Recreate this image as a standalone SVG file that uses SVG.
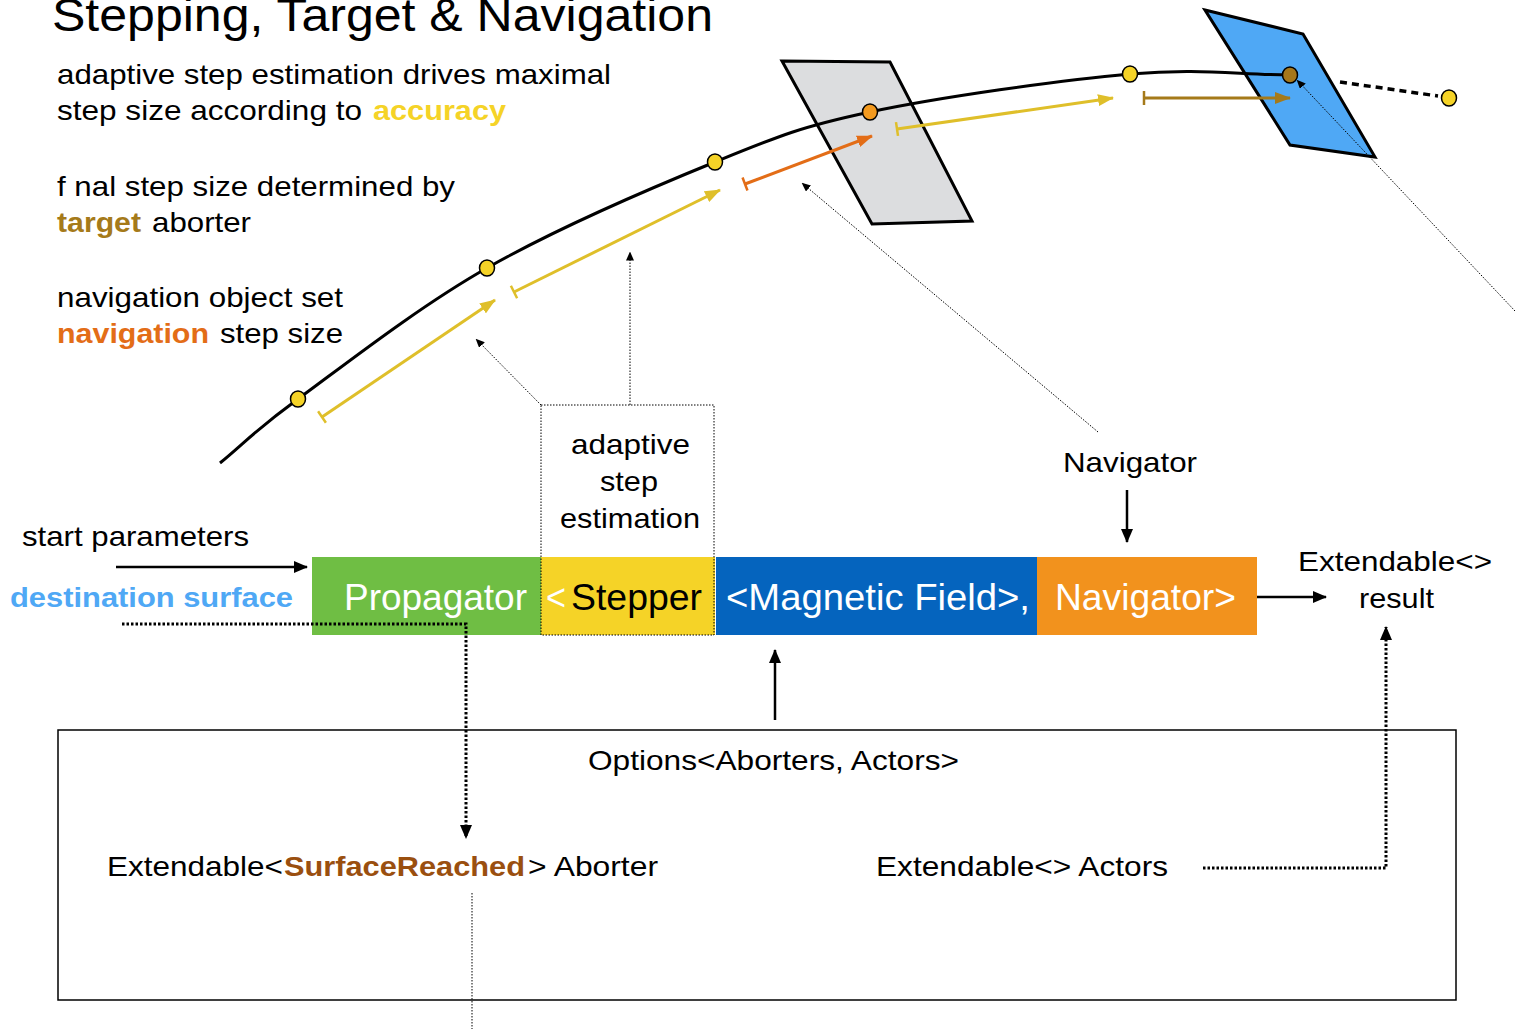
<svg xmlns="http://www.w3.org/2000/svg" width="1515" height="1029" viewBox="0 0 1515 1029">
<style>
text{font-family:"Liberation Sans",Arial,sans-serif;}
.t28{font-size:28px;fill:#000;}
.b{font-weight:bold;}
.bar{font-size:36px;fill:#fff;}
.dotthin{fill:none;stroke:#000;stroke-width:1;stroke-dasharray:1.5 1.5;}
.dotthick{fill:none;stroke:#000;stroke-width:3;stroke-dasharray:2.5 2;}
.dot{stroke:#000;stroke-width:1.5;}
</style>
<defs>
<marker id="ay" viewBox="0 0 16 12" refX="15" refY="6" markerWidth="16" markerHeight="12" markerUnits="userSpaceOnUse" orient="auto"><path d="M0,0 L16,6 L0,12 z" fill="#dfbf2a"/></marker>
<marker id="ao" viewBox="0 0 16 12" refX="15" refY="6" markerWidth="16" markerHeight="12" markerUnits="userSpaceOnUse" orient="auto"><path d="M0,0 L16,6 L0,12 z" fill="#e36d17"/></marker>
<marker id="ab" viewBox="0 0 16 12" refX="15" refY="6" markerWidth="16" markerHeight="12" markerUnits="userSpaceOnUse" orient="auto"><path d="M0,0 L16,6 L0,12 z" fill="#a57a1a"/></marker>
<marker id="ty" viewBox="-2 -8 4 16" refX="0" refY="0" markerWidth="4" markerHeight="16" markerUnits="userSpaceOnUse" orient="auto"><path d="M0,-7 L0,7" stroke="#dfbf2a" stroke-width="2.5"/></marker>
<marker id="to" viewBox="-2 -8 4 16" refX="0" refY="0" markerWidth="4" markerHeight="16" markerUnits="userSpaceOnUse" orient="auto"><path d="M0,-7 L0,7" stroke="#e36d17" stroke-width="2.5"/></marker>
<marker id="tb" viewBox="-2 -8 4 16" refX="0" refY="0" markerWidth="4" markerHeight="16" markerUnits="userSpaceOnUse" orient="auto"><path d="M0,-7 L0,7" stroke="#a57a1a" stroke-width="2.5"/></marker>
<marker id="ak" viewBox="0 0 14 12" refX="13" refY="6" markerWidth="14" markerHeight="12" markerUnits="userSpaceOnUse" orient="auto"><path d="M0,0 L14,6 L0,12 z" fill="#000"/></marker>
<marker id="aks" viewBox="0 0 9 8" refX="8.5" refY="4" markerWidth="9" markerHeight="8" markerUnits="userSpaceOnUse" orient="auto"><path d="M0,0 L9,4 L0,8 z" fill="#000"/></marker>
</defs>
<rect width="1515" height="1029" fill="#fff"/>

<g id="title">
<text x="52" y="31" font-size="46" textLength="661" lengthAdjust="spacingAndGlyphs">Stepping, Target &amp; Navigation</text>
</g>

<g id="notes">
<text class="t28" x="57" y="84" textLength="554" lengthAdjust="spacingAndGlyphs">adaptive step estimation drives maximal</text>
<text class="t28" x="57" y="120" textLength="305" lengthAdjust="spacingAndGlyphs">step size according to</text>
<text class="t28 b" x="373" y="120" style="fill:#f5d327" textLength="133" lengthAdjust="spacingAndGlyphs">accuracy</text>
<text class="t28" x="57" y="196" textLength="398" lengthAdjust="spacingAndGlyphs">f nal step size determined by</text>
<text class="t28 b" x="57" y="232" style="fill:#a57a1a" textLength="84" lengthAdjust="spacingAndGlyphs">target</text>
<text class="t28" x="152" y="232" textLength="99" lengthAdjust="spacingAndGlyphs">aborter</text>
<text class="t28" x="57" y="307" textLength="286" lengthAdjust="spacingAndGlyphs">navigation object set</text>
<text class="t28 b" x="57" y="343" style="fill:#e36d17" textLength="152" lengthAdjust="spacingAndGlyphs">navigation</text>
<text class="t28" x="220" y="343" textLength="123" lengthAdjust="spacingAndGlyphs">step size</text>
</g>

<g id="surface-grey">
<polygon points="782,61 890,62 972,221 872,224" fill="#dcdddf" stroke="#000" stroke-width="3"/>
</g>
<g id="surface-blue">
<polygon points="1205,10 1303,34 1375,157 1290,145" fill="#4fa8f5" stroke="#000" stroke-width="3"/>
</g>

<g id="trajectory">
<path d="M220,463 C246,441.7 253.5,431.5 298,399 C342.5,366.5 417.5,307.5 487,268 C556.5,228.5 651.2,188 715,162 C778.8,136 800.8,126.7 870,112 C939.2,97.3 1060,80.2 1130,74 C1200,67.8 1236.7,74.7 1290,75" fill="none" stroke="#000" stroke-width="3"/>
<line x1="1340" y1="82" x2="1438" y2="96" stroke="#000" stroke-width="3.5" stroke-dasharray="7 5"/>
</g>

<g id="step-arrows">
<line x1="322" y1="417" x2="495" y2="300" stroke="#dfbf2a" stroke-width="3" marker-start="url(#ty)" marker-end="url(#ay)"/>
<line x1="514" y1="292" x2="720" y2="190" stroke="#dfbf2a" stroke-width="3" marker-start="url(#ty)" marker-end="url(#ay)"/>
<line x1="745" y1="184" x2="872" y2="136" stroke="#e36d17" stroke-width="3" marker-start="url(#to)" marker-end="url(#ao)"/>
<line x1="897" y1="129" x2="1113" y2="98" stroke="#dfbf2a" stroke-width="3" marker-start="url(#ty)" marker-end="url(#ay)"/>
<line x1="1144" y1="98" x2="1290" y2="98" stroke="#a57a1a" stroke-width="3" marker-start="url(#tb)" marker-end="url(#ab)"/>
</g>

<g id="points">
<ellipse class="dot" cx="298" cy="399" rx="7.5" ry="8" fill="#f5d327"/>
<ellipse class="dot" cx="487" cy="268" rx="7.5" ry="8" fill="#f5d327"/>
<ellipse class="dot" cx="715" cy="162" rx="7.5" ry="8" fill="#f5d327"/>
<ellipse class="dot" cx="870" cy="112" rx="7.5" ry="8" fill="#f39a1f"/>
<ellipse class="dot" cx="1130" cy="74" rx="7.5" ry="8" fill="#f5d327"/>
<ellipse class="dot" cx="1290" cy="75" rx="7.5" ry="8" fill="#a6771a"/>
<ellipse class="dot" cx="1449" cy="98" rx="7.5" ry="8" fill="#f5d327"/>
</g>

<g id="propagator">
<rect x="312" y="557" width="229" height="78" fill="#6fbe44"/>
<text class="bar" x="344" y="610" textLength="183" lengthAdjust="spacingAndGlyphs">Propagator</text>
</g>
<g id="stepper">
<rect x="541" y="557" width="174" height="78" fill="#f5d327"/>
<text class="bar" x="546" y="610" textLength="20" lengthAdjust="spacingAndGlyphs">&lt;</text>
<text class="bar" x="571" y="610" style="fill:#000" textLength="131" lengthAdjust="spacingAndGlyphs">Stepper</text>
</g>
<g id="magnetic-field">
<rect x="716" y="557" width="322" height="78" fill="#0564be"/>
<text class="bar" x="726" y="610" textLength="304" lengthAdjust="spacingAndGlyphs">&lt;Magnetic Field&gt;,</text>
</g>
<g id="navigator">
<rect x="1037" y="557" width="220" height="78" fill="#f2921d"/>
<text class="bar" x="1055" y="610" textLength="181" lengthAdjust="spacingAndGlyphs">Navigator&gt;</text>
</g>

<g id="adaptive-step-estimation">
<rect class="dotthin" x="541" y="405" width="173" height="230"/>
<text class="t28" x="571" y="454" textLength="119" lengthAdjust="spacingAndGlyphs">adaptive</text>
<text class="t28" x="600" y="491" textLength="58" lengthAdjust="spacingAndGlyphs">step</text>
<text class="t28" x="560" y="528" textLength="140" lengthAdjust="spacingAndGlyphs">estimation</text>
</g>

<g id="navigator-label">
<text class="t28" x="1063" y="472" textLength="134" lengthAdjust="spacingAndGlyphs">Navigator</text>
</g>
<g id="start-parameters">
<text class="t28" x="22" y="546" textLength="227" lengthAdjust="spacingAndGlyphs">start parameters</text>
</g>
<g id="destination-surface">
<text class="t28 b" x="10" y="607" style="fill:#4fa8f5" textLength="283" lengthAdjust="spacingAndGlyphs">destination surface</text>
</g>
<g id="result">
<text class="t28" x="1298" y="571" textLength="194" lengthAdjust="spacingAndGlyphs">Extendable&lt;&gt;</text>
<text class="t28" x="1359" y="608" textLength="75" lengthAdjust="spacingAndGlyphs">result</text>
</g>

<g id="options">
<rect x="58" y="730" width="1398" height="270" fill="none" stroke="#000" stroke-width="1.5"/>
<text class="t28" x="588" y="770" textLength="371" lengthAdjust="spacingAndGlyphs">Options&lt;Aborters, Actors&gt;</text>
</g>
<g id="aborter">
<text class="t28" x="107" y="876" textLength="176" lengthAdjust="spacingAndGlyphs">Extendable&lt;</text>
<text class="t28 b" x="284" y="876" style="fill:#9a4f0f" textLength="241" lengthAdjust="spacingAndGlyphs">SurfaceReached</text>
<text class="t28" x="528" y="876" textLength="130" lengthAdjust="spacingAndGlyphs">&gt; Aborter</text>
</g>
<g id="actors">
<text class="t28" x="876" y="876" textLength="292" lengthAdjust="spacingAndGlyphs">Extendable&lt;&gt; Actors</text>
</g>

<g id="connectors">
<line class="dotthin" x1="541" y1="405" x2="476" y2="339" marker-end="url(#aks)"/>
<line class="dotthin" x1="630" y1="405" x2="630" y2="252" marker-end="url(#aks)"/>
<line class="dotthin" x1="1098" y1="432" x2="802" y2="183" marker-end="url(#aks)"/>
<line class="dotthin" x1="1515" y1="311" x2="1297" y2="80" marker-end="url(#aks)"/>
<line x1="1127" y1="490" x2="1127" y2="542" stroke="#000" stroke-width="2.5" marker-end="url(#ak)"/>
<line x1="116" y1="567" x2="307" y2="567" stroke="#000" stroke-width="2.5" marker-end="url(#ak)"/>
<line x1="1257" y1="597" x2="1326" y2="597" stroke="#000" stroke-width="2.5" marker-end="url(#ak)"/>
<line x1="775" y1="720" x2="775" y2="650" stroke="#000" stroke-width="2.5" marker-end="url(#ak)"/>
<polyline class="dotthick" points="122,624 466,624 466,838" marker-end="url(#ak)"/>
<polyline class="dotthick" points="1203,868 1386,868 1386,627" marker-end="url(#ak)"/>
<line class="dotthin" x1="472" y1="893" x2="472" y2="1029"/>
</g>
</svg>
